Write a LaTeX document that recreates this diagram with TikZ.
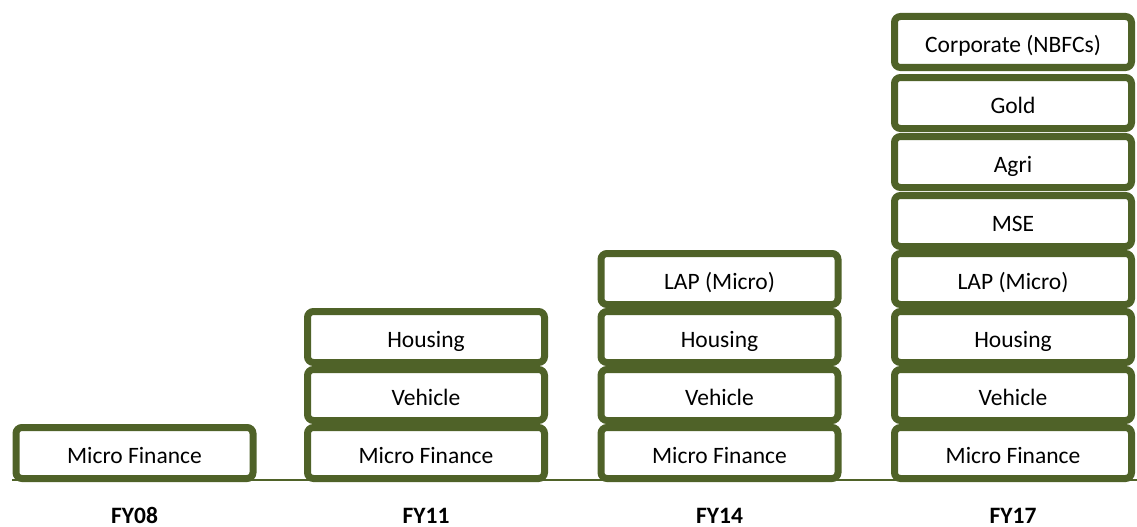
\documentclass[tikz,border=0pt]{standalone}
\usepackage{fontspec}
\setmainfont{Carlito}
\definecolor{olive}{RGB}{79,98,40}
\begin{document}
\begin{tikzpicture}[x=1pt,y=-1pt,
  seg/.style={draw=olive, line width=7pt, fill=white, rounded corners=6pt,
    minimum width=237pt, minimum height=51pt, inner sep=0pt},
  segtxt/.style={anchor=base, font=\fontsize{23.5}{26}\selectfont, text=black},
  yeartxt/.style={anchor=base, font=\fontsize{23.5}{26}\selectfont\bfseries, text=black}]
\useasboundingbox (0,0) rectangle (1137,527);
% axis line
\coordinate (axisL) at (12,480);
\coordinate (axisR) at (1137,480);
\draw[olive, line width=1.5pt] (axisL) -- (axisR);
% columns
\def\colA{134.5}\def\colB{426}\def\colC{719.5}\def\colD{1013}
% FY08
\node[seg] (a1) at (\colA,453) {};
\node[segtxt] (a1t) at (\colA,463.5) {Micro Finance};
% FY11
\node[seg] (b1) at (\colB,453) {};
\node[segtxt] (b1t) at (\colB,463.5) {Micro Finance};
\node[seg] (b2) at (\colB,395) {};
\node[segtxt] (b2t) at (\colB,405.5) {Vehicle};
\node[seg] (b3) at (\colB,337) {};
\node[segtxt] (b3t) at (\colB,347.5) {Housing};
% FY14
\node[seg] (c1) at (\colC,453) {};
\node[segtxt] (c1t) at (\colC,463.5) {Micro Finance};
\node[seg] (c2) at (\colC,395) {};
\node[segtxt] (c2t) at (\colC,405.5) {Vehicle};
\node[seg] (c3) at (\colC,337) {};
\node[segtxt] (c3t) at (\colC,347.5) {Housing};
\node[seg] (c4) at (\colC,279) {};
\node[segtxt] (c4t) at (\colC,289.5) {LAP (Micro)};
% FY17
\node[seg] (d1) at (\colD,453) {};
\node[segtxt] (d1t) at (\colD,463.5) {Micro Finance};
\node[seg] (d2) at (\colD,395) {};
\node[segtxt] (d2t) at (\colD,405.5) {Vehicle};
\node[seg] (d3) at (\colD,337) {};
\node[segtxt] (d3t) at (\colD,347.5) {Housing};
\node[seg] (d4) at (\colD,279) {};
\node[segtxt] (d4t) at (\colD,289.5) {LAP (Micro)};
\node[seg] (d5) at (\colD,221) {};
\node[segtxt] (d5t) at (\colD,231.5) {MSE};
\node[seg] (d6) at (\colD,162) {};
\node[segtxt] (d6t) at (\colD,172.5) {Agri};
\node[seg] (d7) at (\colD,103) {};
\node[segtxt] (d7t) at (\colD,113.5) {Gold};
\node[seg] (d8) at (\colD,42) {};
\node[segtxt] (d8t) at (\colD,52.5) {Corporate (NBFCs)};
% year labels
\node[yeartxt] (y1) at (\colA,523) {FY08};
\node[yeartxt] (y2) at (\colB,523) {FY11};
\node[yeartxt] (y3) at (\colC,523) {FY14};
\node[yeartxt] (y4) at (\colD,523) {FY17};
\end{tikzpicture}
\end{document}
